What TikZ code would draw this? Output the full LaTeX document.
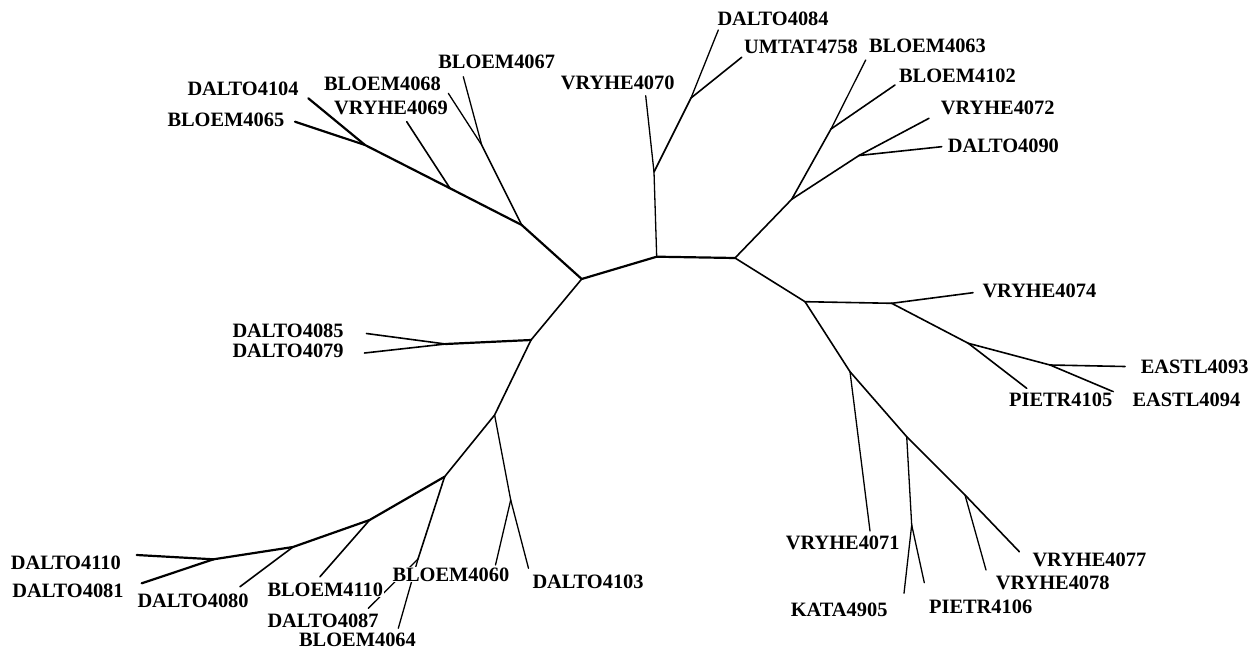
\documentclass[tikz,border=0pt]{standalone}
\usepackage{fontspec}
\setmainfont{Liberation Serif}
\begin{document}
\begin{tikzpicture}[x=1pt,y=-1pt,
  br/.style={line width=1.6pt,line cap=round,line join=round},
  thk/.style={line width=2.2pt,line cap=round,line join=round},
  thn/.style={line width=1.3pt,line cap=round},
  lab/.style={font=\bfseries\fontsize{20.4}{24}\selectfont,inner sep=0.6pt,fill=white,anchor=base west}]
\useasboundingbox (0,0) rectangle (1258,655);
% ---- internal nodes
\coordinate (c1) at (656.7,256.7);
\coordinate (c2) at (735,258);
\coordinate (l1) at (581.7,279);
\coordinate (n1) at (521.7,225);
\coordinate (n2) at (481.7,145);
\coordinate (n3) at (450,188.3);
\coordinate (n4) at (365,145);
\coordinate (A) at (531,340);
\coordinate (H) at (445.5,344);
\coordinate (B) at (494.6,415);
\coordinate (I) at (510.7,500);
\coordinate (C) at (444.6,476.7);
\coordinate (E) at (418,559);
\coordinate (D) at (369.6,520);
\coordinate (F) at (293,547);
\coordinate (G) at (213.5,559.3);
\coordinate (V) at (654,172);
\coordinate (U) at (691,98);
\coordinate (R) at (791.7,199.3);
\coordinate (Bn) at (831,129);
\coordinate (Vn) at (859,155.5);
\coordinate (S) at (805,301.7);
\coordinate (T) at (891.7,303.3);
\coordinate (P) at (968.3,343.3);
\coordinate (Q) at (1050,365);
\coordinate (K) at (850,371.7);
\coordinate (M) at (906.7,436.7);
\coordinate (N) at (911.7,525);
\coordinate (W) at (965,495);
% ---- leaf ends
\coordinate (t4084) at (718.3,30);
\coordinate (t4758) at (741.7,57.3);
\coordinate (t4063) at (865.7,60);
\coordinate (t4102) at (895,85);
\coordinate (t4072) at (929,118.3);
\coordinate (t4090) at (941.7,146.7);
\coordinate (t4070) at (645.7,95.7);
\coordinate (t4067) at (463.3,76.7);
\coordinate (t4068) at (448.3,93.3);
\coordinate (t4069) at (406.7,121.7);
\coordinate (t4104) at (308.3,98.3);
\coordinate (t4065) at (295,121.7);
\coordinate (t4085) at (366.5,333.5);
\coordinate (t4079) at (364.5,353);
\coordinate (t4060) at (495.5,565);
\coordinate (t4103) at (528.5,568.3);
\coordinate (t4064) at (398.3,628.3);
\coordinate (t4087) at (368.3,608.3);
\coordinate (tB4110) at (320,576.7);
\coordinate (t4080) at (240,586.7);
\coordinate (tD4110) at (136.7,555);
\coordinate (t4081) at (141.7,583.3);
\coordinate (t4074) at (973,292.7);
\coordinate (t4105) at (1026.7,388.3);
\coordinate (t4093) at (1125,366.5);
\coordinate (t4094) at (1113.3,391.7);
\coordinate (t4071) at (870,531);
\coordinate (t4905) at (904,593.3);
\coordinate (t4106) at (924.3,582.7);
\coordinate (t4078) at (986,570);
\coordinate (t4077) at (1019.3,551.7);
% ---- branches
\draw[thk] (l1) -- (c1) -- (c2);
\draw[thk] (l1) -- (n1) -- (n3) -- (n4);
\draw[br] (n1) -- (n2);
\draw[thn] (n2) -- (t4067);
\draw[thn] (n2) -- (t4068);
\draw[br] (n3) -- (t4069);
\draw[thk] (n4) -- (t4104);
\draw[thk] (n4) -- (t4065);
\draw[br] (l1) -- (A) -- (B) -- (C);
\draw[thk] (A) -- (H);
\draw[br] (H) -- (t4085);
\draw[br] (H) -- (t4079);
\draw[thn] (B) -- (I);
\draw[thn] (I) -- (t4060);
\draw[thn] (I) -- (t4103);
\draw[br] (C) -- (E);
\draw[thn] (E) -- (t4064);
\draw[thn] (E) -- (t4087);
\draw[thk] (C) -- (D) -- (F) -- (G);
\draw[br] (D) -- (tB4110);
\draw[br] (F) -- (t4080);
\draw[thk] (G) -- (tD4110);
\draw[thk] (G) -- (t4081);
\draw[thn] (c1) -- (V) -- (t4070);
\draw[br] (V) -- (U);
\draw[thn] (U) -- (t4084);
\draw[br] (U) -- (t4758);
\draw[br] (c2) -- (R) -- (Bn);
\draw[thn] (Bn) -- (t4063);
\draw[br] (Bn) -- (t4102);
\draw[br] (R) -- (Vn);
\draw[br] (Vn) -- (t4072);
\draw[br] (Vn) -- (t4090);
\draw[br] (c2) -- (S) -- (T);
\draw[br] (T) -- (t4074);
\draw[br] (T) -- (P) -- (Q);
\draw[br] (P) -- (t4105);
\draw[br] (Q) -- (t4093);
\draw[br] (Q) -- (t4094);
\draw[br] (S) -- (K) -- (M) -- (W) -- (t4077);
\draw[thn] (K) -- (t4071);
\draw[thn] (M) -- (N);
\draw[thn] (N) -- (t4905);
\draw[thn] (N) -- (t4106);
\draw[thn] (W) -- (t4078);
% ---- labels
\node[lab] (L4084) at (716.7,25.3) {DALTO4084};
\node[lab] (L4758) at (743.3,53.7) {UMTAT4758};
\node[lab] (L4063) at (868.3,53) {BLOEM4063};
\node[lab] (L4102) at (898.3,83) {BLOEM4102};
\node[lab] (L4072) at (940,114.5) {VRYHE4072};
\node[lab] (L4090) at (947,153) {DALTO4090};
\node[lab] (L4070) at (560,90) {VRYHE4070};
\node[lab] (L4067) at (437.5,69) {BLOEM4067};
\node[lab] (L4068) at (323.3,91) {BLOEM4068};
\node[lab] (L4069) at (333.3,114.5) {VRYHE4069};
\node[lab] (L4104) at (186.7,96) {DALTO4104};
\node[lab] (L4065) at (166.7,127) {BLOEM4065};
\node[lab] (L4085) at (231.7,337) {DALTO4085};
\node[lab] (L4079) at (231.7,357) {DALTO4079};
\node[lab] (LD4110) at (10,569) {DALTO4110};
\node[lab] (L4081) at (11.7,597.5) {DALTO4081};
\node[lab] (L4080) at (136.7,607) {DALTO4080};
\node[lab] (LB4110) at (266.7,596) {BLOEM4110};
\node[lab] (L4087) at (266.7,627) {DALTO4087};
\node[lab] (L4064) at (298.3,646) {BLOEM4064};
\node[lab] (L4060) at (391.7,581) {BLOEM4060};
\node[lab] (L4103) at (531.7,588) {DALTO4103};
\node[lab] (L4071) at (785,549.5) {VRYHE4071};
\node[lab] (L4905) at (790,616) {KATA4905};
\node[lab] (L4106) at (928.3,613) {PIETR4106};
\node[lab] (L4078) at (995,589.5) {VRYHE4078};
\node[lab] (L4077) at (1031.7,566) {VRYHE4077};
\node[lab] (L4074) at (981.7,297) {VRYHE4074};
\node[lab] (L4093) at (1140,373) {EASTL4093};
\node[lab] (L4094) at (1131.7,406) {EASTL4094};
\node[lab] (L4105) at (1008.3,406) {PIETR4105};
\end{tikzpicture}
\end{document}
